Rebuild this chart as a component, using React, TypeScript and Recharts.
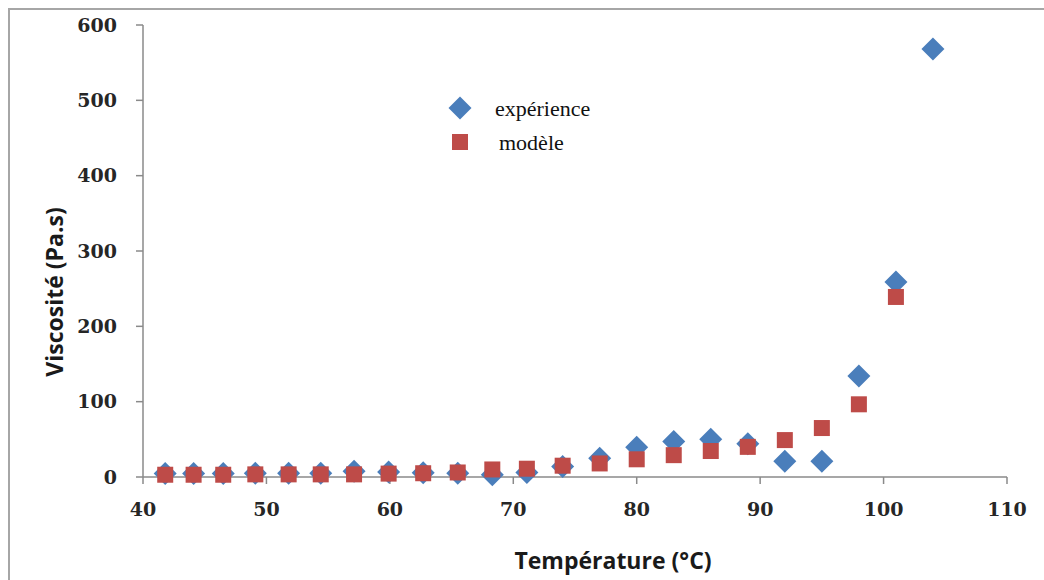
import React from "react";
import { ScatterChart, Scatter, XAxis, YAxis } from "recharts";

const temperatures = [
  41.8, 44.1, 46.5, 49.1, 51.8, 54.4, 57.1, 59.9, 62.7, 65.5, 68.3, 71.1, 74,
  77, 80, 83, 86, 89, 92, 95, 98, 101, 104,
];
const experience = [
  4.5, 4.5, 4.5, 5, 5, 5, 7.5, 6.5, 5.5, 5, 3, 6, 14, 25, 39.5, 47, 50, 44, 21,
  21, 134, 259, 568,
];
const modele = [
  3, 3, 3, 3.5, 3.5, 3.5, 3.5, 4.5, 5, 6, 10, 11, 15, 18, 23.5, 29, 34.5, 40,
  49, 65, 96.5, 239,
];
const xTicks = [40, 50, 60, 70, 80, 90, 100, 110];
const yTicks = [0, 100, 200, 300, 400, 500, 600];

const expData = temperatures.map((t, i) => ({ t, v: experience[i] }));
const modData = modele.map((v, i) => ({ t: temperatures[i], v }));

const BLUE = "#4A7EBB";
const RED = "#BE4B48";
const AXIS = "#8a8a8a";
const tickFont = {
  fontFamily: "DejaVu Serif",
  fontWeight: 700,
  fontSize: 19,
  fill: "#262626",
};
const titleFont = {
  fontFamily: "Open Sans",
  fontWeight: 700,
  fontSize: 23,
  fill: "#1a1a1a",
};

function Diamond({ cx, cy }: any) {
  const r = 11.5;
  return (
    <path
      d={`M${cx},${cy - r}L${cx + r},${cy}L${cx},${cy + r}L${cx - r},${cy}Z`}
      fill={BLUE}
    />
  );
}

function Square({ cx, cy }: any) {
  const h = 8;
  return <rect x={cx - h} y={cy - h} width={2 * h} height={2 * h} fill={RED} />;
}

function LegendBox() {
  const text = { fontFamily: "Liberation Serif", fontSize: 22, fill: "#111" };
  return (
    <svg width={180} height={70}>
      <Diamond cx={20} cy={17} />
      <text x={55} y={17} dominantBaseline="central" {...text}>
        expérience
      </text>
      <Square cx={20} cy={51} />
      <text x={59} y={51} dominantBaseline="central" {...text}>
        modèle
      </text>
    </svg>
  );
}

export default function App() {
  return (
    <div
      style={{
        position: "absolute",
        left: 0,
        top: 0,
        width: 1044,
        height: 580,
        overflow: "hidden",
        background: "#fff",
      }}
    >
      <div
        style={{
          position: "absolute",
          left: 8,
          top: 8,
          width: 1100,
          height: 700,
          border: "2px solid #a6a6a6",
        }}
      />
      <div style={{ position: "absolute", left: 0, top: 0 }}>
        <ScatterChart
          width={1044}
          height={580}
          margin={{ top: 25, right: 37, bottom: 0, left: 0 }}
        >
          <XAxis
            type="number"
            dataKey="t"
            domain={[40, 110]}
            ticks={xTicks}
            height={103}
            stroke={AXIS}
            strokeWidth={1.5}
            tickSize={7}
            tickMargin={19}
            tick={tickFont}
            label={{
              content: ({ viewBox }: any) => (
                <text
                  x={viewBox.x + viewBox.width / 2 + 38}
                  y={viewBox.y + 83}
                  textAnchor="middle"
                  dominantBaseline="central"
                  {...titleFont}
                >
                  Température (°C)
                </text>
              ),
            }}
          />
          <YAxis
            type="number"
            dataKey="v"
            domain={[0, 600]}
            ticks={yTicks}
            width={143}
            stroke={AXIS}
            strokeWidth={1.5}
            tickSize={7}
            tickMargin={19}
            tick={tickFont}
            label={{
              content: ({ viewBox }: any) => {
                const cx = viewBox.x + 54;
                const cy = viewBox.y + viewBox.height / 2 + 41;
                return (
                  <text
                    x={cx}
                    y={cy}
                    transform={`rotate(-90 ${cx} ${cy})`}
                    textAnchor="middle"
                    dominantBaseline="central"
                    {...titleFont}
                  >
                    Viscosité (Pa.s)
                  </text>
                );
              },
            }}
          />
          <Scatter
            name="expérience"
            data={expData}
            shape={(p: any) => <Diamond {...p} />}
            isAnimationActive={false}
          />
          <Scatter
            name="modèle"
            data={modData}
            shape={(p: any) => <Square {...p} />}
            isAnimationActive={false}
          />
        </ScatterChart>
      </div>
      <div style={{ position: "absolute", left: 440, top: 91 }}>
        <LegendBox />
      </div>
    </div>
  );
}
